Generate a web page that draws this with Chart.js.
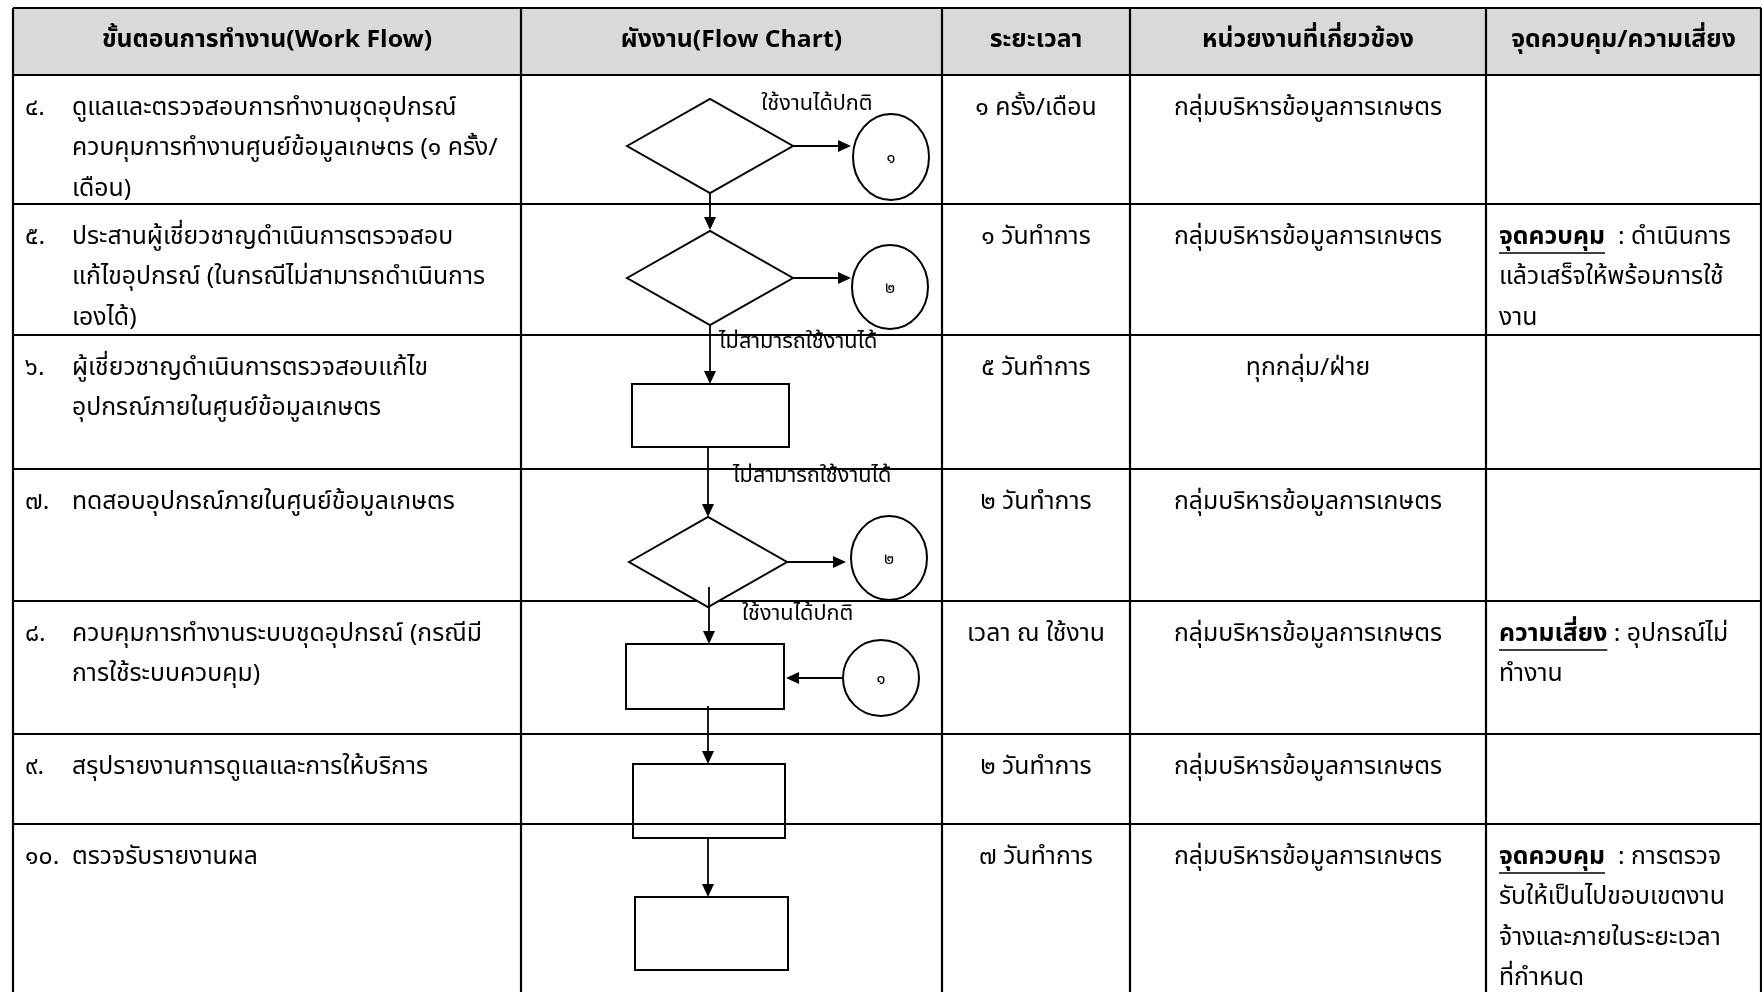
<!DOCTYPE html>
<html>
<head>
<meta charset="utf-8">
<script src="https://cdn.jsdelivr.net/npm/chart.js@4.4.1/dist/chart.umd.min.js"></script>
<style>
  html, body { margin: 0; padding: 0; background: #fff; }
  #wrap { width: 1762px; height: 992px; }
</style>
</head>
<body>
<div id="wrap"><canvas id="flow"></canvas></div>
<script>
// table content
const headers = ['ขั้นตอนการทำงาน(Work Flow)', 'ผังงาน(Flow Chart)', 'ระยะเวลา', 'หน่วยงานที่เกี่ยวข้อง', 'จุดควบคุม/ความเสี่ยง']
const stepNumbers = ['๔.', '๕.', '๖.', '๗.', '๘.', '๙.', '๑๐.']
const stepTexts = [
  ['ดูแลและตรวจสอบการทำงานชุดอุปกรณ์', 'ควบคุมการทำงานศูนย์ข้อมูลเกษตร (๑ ครั้ง/', 'เดือน)'],
  ['ประสานผู้เชี่ยวชาญดำเนินการตรวจสอบ', 'แก้ไขอุปกรณ์ (ในกรณีไม่สามารถดำเนินการ', 'เองได้)'],
  ['ผู้เชี่ยวชาญดำเนินการตรวจสอบแก้ไข', 'อุปกรณ์ภายในศูนย์ข้อมูลเกษตร'],
  ['ทดสอบอุปกรณ์ภายในศูนย์ข้อมูลเกษตร'],
  ['ควบคุมการทำงานระบบชุดอุปกรณ์ (กรณีมี', 'การใช้ระบบควบคุม)'],
  ['สรุปรายงานการดูแลและการให้บริการ'],
  ['ตรวจรับรายงานผล']
]
const durations = ['๑ ครั้ง/เดือน', '๑ วันทำการ', '๕ วันทำการ', '๒ วันทำการ', 'เวลา ณ ใช้งาน', '๒ วันทำการ', '๗ วันทำการ']
const units = ['กลุ่มบริหารข้อมูลการเกษตร', 'กลุ่มบริหารข้อมูลการเกษตร', 'ทุกกลุ่ม/ฝ่าย', 'กลุ่มบริหารข้อมูลการเกษตร',
  'กลุ่มบริหารข้อมูลการเกษตร', 'กลุ่มบริหารข้อมูลการเกษตร', 'กลุ่มบริหารข้อมูลการเกษตร']
const controlTags = [null, 'จุดควบคุม', null, null, 'ความเสี่ยง', null, 'จุดควบคุม']
const controlTexts = [
  [],
  ['  : ดำเนินการ', 'แล้วเสร็จให้พร้อมการใช้', 'งาน'],
  [], [],
  [' : อุปกรณ์ไม่', 'ทำงาน'],
  [],
  ['  : การตรวจ', 'รับให้เป็นไปขอบเขตงาน', 'จ้างและภายในระยะเวลา', 'ที่กำหนด']
]

// grid (chart units)
const colEdges = [13, 521, 942, 1130, 1486, 1761]
const rowEdges = [8, 75, 204, 335, 469, 601, 734, 824, 1000]

// flow chart: [cx, cy, halfW, halfH]
const decisions = [[710, 146, 83, 47], [710, 278, 83, 47], [708, 562, 79, 45]]
const processes = [[632, 384, 789, 447], [626, 644, 784, 709], [633, 764, 785, 838], [635, 897, 788, 970]]
const connectors = [[891, 157, 38, 43, '๑'], [890, 287, 38, 42, '๒'], [889, 558, 38, 42, '๒'], [881, 678, 38, 38, '๑']]
const arrows = [
  [791, 146, 851, 146], [710, 193, 710, 230], [791, 278, 851, 278], [710, 325, 710, 384],
  [708, 447, 708, 517], [787, 562, 846, 562], [709, 587, 709, 644], [843, 678, 786, 678],
  [708, 706, 708, 764], [708, 838, 708, 897]
]
const branchLabels = [['ใช้งานได้ปกติ', 817, 106, 'center'], ['ไม่สามารถใช้งานได้', 719, 344, 'left'],
  ['ไม่สามารถใช้งานได้', 733, 478, 'left'], ['ใช้งานได้ปกติ', 742, 616, 'left']]

const FONT = '"Noto Sans Thai", "Noto Sans Thai UI", "Noto Sans Thai Looped", Loma, Garuda, "Noto Sans", "DejaVu Sans", sans-serif'
const SIZE = 24

const tablePlugin = {
  id: 'tablePlugin',
  afterDraw(chart) {
    const ctx = chart.ctx
    const X = v => chart.scales.x.getPixelForValue(v)
    const Y = v => chart.scales.y.getPixelForValue(v)

    // squeeze factor so the fallback font matches the narrow original
    ctx.font = SIZE + 'px ' + FONT
    const sx = Math.min(1.1, Math.max(0.55, 268 / ctx.measureText('กลุ่มบริหารข้อมูลการเกษตร').width))

    const text = (str, x, y, align, size, bold) => {
      ctx.save()
      ctx.font = (bold ? 'bold ' : '') + size + 'px ' + FONT
      ctx.fillStyle = '#000'
      ctx.textBaseline = 'middle'
      ctx.textAlign = align
      ctx.translate(X(x), Y(y))
      ctx.scale(sx, 1)
      ctx.fillText(str, 0, 0)
      const w = ctx.measureText(str).width * sx
      ctx.restore()
      return w
    }

    ctx.save()
    // header fill
    ctx.fillStyle = '#d9d9d9'
    ctx.fillRect(X(colEdges[0]), Y(rowEdges[0]), X(colEdges[5]) - X(colEdges[0]), Y(rowEdges[1]) - Y(rowEdges[0]))

    // grid
    ctx.strokeStyle = '#000'
    ctx.lineWidth = 2.2
    rowEdges.slice(0, -1).forEach(r => {
      ctx.beginPath(); ctx.moveTo(X(colEdges[0]), Y(r)); ctx.lineTo(X(colEdges[5]), Y(r)); ctx.stroke()
    })
    colEdges.forEach(c => {
      ctx.beginPath(); ctx.moveTo(X(c), Y(rowEdges[0])); ctx.lineTo(X(c), Y(992)); ctx.stroke()
    })
    ctx.restore()

    // headers
    headers.forEach((h, i) => text(h, (colEdges[i] + colEdges[i + 1]) / 2, (rowEdges[0] + rowEdges[1]) / 2 + 1, 'center', SIZE, true))

    // rows
    stepNumbers.forEach((num, i) => {
      const top = rowEdges[i + 1] + 35
      const nw = text(num, 25, top, 'left', SIZE)
      const tx = Math.max(72, 25 + nw + 10)
      stepTexts[i].forEach((ln, k) => text(ln, tx, top + k * 40.5, 'left', SIZE))
      text(durations[i], (colEdges[2] + colEdges[3]) / 2, top, 'center', SIZE)
      text(units[i], (colEdges[3] + colEdges[4]) / 2, top, 'center', SIZE)
      if (controlTags[i]) {
        const tw = text(controlTags[i], 1499, top, 'left', SIZE, true)
        ctx.save()
        ctx.strokeStyle = '#000'; ctx.lineWidth = 1.6
        ctx.beginPath(); ctx.moveTo(X(1499), Y(top + 14)); ctx.lineTo(X(1499) + tw, Y(top + 14)); ctx.stroke()
        ctx.restore()
        controlTexts[i].forEach((ln, k) => text(ln, k === 0 ? 1499 + tw : 1499, top + k * 40.5, 'left', SIZE))
      }
    })

    // flow chart shapes
    ctx.save()
    ctx.strokeStyle = '#000'
    ctx.fillStyle = '#000'
    ctx.lineWidth = 2
    decisions.forEach(([cx, cy, hw, hh]) => {
      ctx.beginPath()
      ctx.moveTo(X(cx - hw), Y(cy)); ctx.lineTo(X(cx), Y(cy - hh))
      ctx.lineTo(X(cx + hw), Y(cy)); ctx.lineTo(X(cx), Y(cy + hh)); ctx.closePath()
      ctx.fillStyle = '#fff'; ctx.fill(); ctx.stroke()
    })
    processes.forEach(([x0, y0, x1, y1]) => {
      ctx.beginPath()
      ctx.rect(X(x0), Y(y0), X(x1) - X(x0), Y(y1) - Y(y0))
      ctx.stroke()
    })
    connectors.forEach(([cx, cy, rx, ry]) => {
      ctx.beginPath()
      ctx.ellipse(X(cx), Y(cy), Math.abs(X(cx + rx) - X(cx)), Math.abs(Y(cy + ry) - Y(cy)), 0, 0, Math.PI * 2)
      ctx.fillStyle = '#fff'; ctx.fill(); ctx.stroke()
    })
    ctx.fillStyle = '#000'
    ctx.lineWidth = 1.8
    arrows.forEach(([x0, y0, x1, y1]) => {
      const ax = X(x1), ay = Y(y1)
      const ang = Math.atan2(ay - Y(y0), ax - X(x0))
      const len = 13, half = 6
      ctx.beginPath(); ctx.moveTo(X(x0), Y(y0))
      ctx.lineTo(ax - Math.cos(ang) * len, ay - Math.sin(ang) * len); ctx.stroke()
      ctx.beginPath(); ctx.moveTo(ax, ay)
      ctx.lineTo(ax - Math.cos(ang) * len - Math.sin(ang) * half, ay - Math.sin(ang) * len + Math.cos(ang) * half)
      ctx.lineTo(ax - Math.cos(ang) * len + Math.sin(ang) * half, ay - Math.sin(ang) * len - Math.cos(ang) * half)
      ctx.closePath(); ctx.fill()
    })
    ctx.restore()

    connectors.forEach(([cx, cy, , , label]) => text(label, cx, cy + 3, 'center', 16))
    branchLabels.forEach(([str, x, y, align]) => text(str, x, y, align, 21))
  }
}

const ctx = document.getElementById('flow')

new Chart(ctx, {
  type: 'scatter',
  data: { datasets: [{ data: [], pointRadius: 0 }] },
  options: {
    responsive: true,
    maintainAspectRatio: false,
    animation: false,
    layout: { padding: 0 },
    plugins: { legend: { display: false }, tooltip: { enabled: false } },
    scales: {
      x: { type: 'linear', min: 0, max: 1762, display: false },
      y: { type: 'linear', min: 0, max: 992, reverse: true, display: false }
    }
  },
  plugins: [tablePlugin]
})
</script>
</body>
</html>
